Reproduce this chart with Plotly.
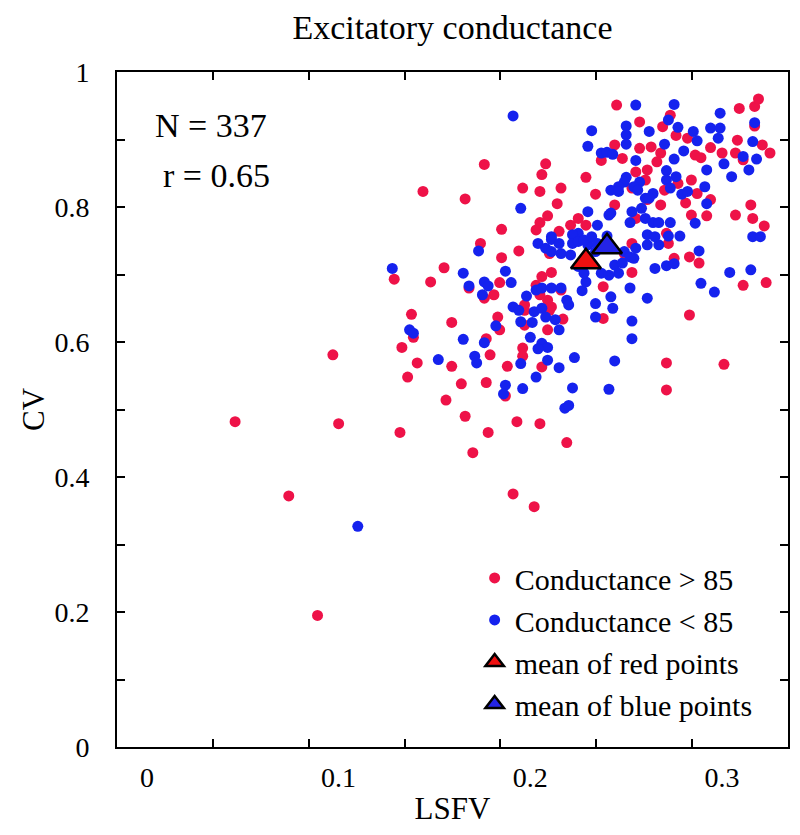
import plotly.graph_objects as go

# ---------------- data ----------------
red_x = [0.245,0.257,0.309,0.317,0.319,0.317,0.273,0.269,0.276,0.282,
         0.244,0.257,0.263,0.268,0.266,0.248,0.237,0.294,0.300,0.308,
         0.307,0.311,0.321,0.325,0.286,0.289,0.176,0.208,0.206,0.229,
         0.144,0.166,0.196,0.205,0.216,0.234,0.214,0.185,0.209,0.205,
         0.203,0.215,0.221,0.225,0.229,0.244,0.255,0.261,0.260,0.253,
         0.270,0.277,0.284,0.287,0.294,0.261,0.268,0.281,0.284,0.292,
         0.255,0.307,0.315,0.316,0.322,0.271,0.174,0.185,0.194,0.155,
         0.129,0.148,0.168,0.176,0.181,0.184,0.206,0.211,0.203,0.205,
         0.209,0.211,0.210,0.197,0.197,0.217,0.197,0.209,0.183,0.184,
         0.177,0.138,0.139,0.159,0.133,0.179,0.196,0.196,0.141,0.159,
         0.188,0.206,0.238,0.238,0.253,0.253,0.249,0.272,0.275,0.283,
         0.288,0.283,0.271,0.301,0.311,0.323,0.216,0.210,0.136,0.164,
         0.177,0.156,0.166,0.132,0.178,0.170,0.193,0.205,0.219,0.187,
         0.271,0.191,0.202,0.046,0.100,0.074,0.089,0.097]
red_y = [0.951,0.926,0.946,0.949,0.960,0.920,0.936,0.919,0.906,0.902,
         0.892,0.887,0.889,0.880,0.867,0.872,0.869,0.888,0.880,0.899,
         0.880,0.870,0.892,0.880,0.877,0.873,0.863,0.864,0.848,0.844,
         0.823,0.812,0.828,0.823,0.828,0.819,0.805,0.767,0.787,0.777,
         0.766,0.764,0.773,0.783,0.773,0.803,0.852,0.855,0.840,0.828,
         0.825,0.835,0.840,0.820,0.811,0.811,0.803,0.806,0.788,0.787,
         0.783,0.788,0.803,0.783,0.772,0.761,0.746,0.725,0.735,0.710,
         0.693,0.689,0.680,0.665,0.670,0.688,0.697,0.703,0.684,0.670,
         0.662,0.652,0.647,0.655,0.647,0.634,0.625,0.618,0.637,0.618,
         0.605,0.641,0.607,0.629,0.592,0.581,0.591,0.579,0.569,0.564,
         0.564,0.563,0.682,0.635,0.746,0.703,0.731,0.746,0.724,0.726,
         0.717,0.640,0.569,0.567,0.684,0.688,0.677,0.731,0.548,0.538,
         0.540,0.514,0.490,0.466,0.466,0.436,0.482,0.479,0.451,0.520,
         0.529,0.375,0.356,0.482,0.479,0.372,0.195,0.581]

blue_x = [0.191,0.255,0.275,0.272,0.277,0.250,0.250,0.250,0.262,0.270,
          0.285,0.287,0.299,0.294,0.299,0.298,0.317,0.316,0.232,0.230,
          0.237,0.240,0.243,0.255,0.275,0.280,0.301,0.311,0.318,0.314,
          0.305,0.292,0.291,0.292,0.271,0.271,0.276,0.273,0.279,0.282,
          0.250,0.249,0.246,0.242,0.246,0.257,0.254,0.256,0.264,0.260,
          0.262,0.253,0.252,0.264,0.267,0.273,0.286,0.241,0.242,0.230,
          0.195,0.235,0.225,0.222,0.211,0.240,0.261,0.272,0.278,0.316,
          0.320,0.128,0.173,0.165,0.168,0.176,0.178,0.175,0.187,0.190,
          0.198,0.203,0.206,0.216,0.219,0.220,0.191,0.194,0.202,0.206,
          0.208,0.195,0.201,0.213,0.215,0.182,0.137,0.139,0.165,0.176,
          0.200,0.206,0.209,0.204,0.152,0.171,0.172,0.195,0.209,0.215,
          0.223,0.244,0.227,0.229,0.234,0.234,0.242,0.243,0.252,0.253,
          0.253,0.261,0.265,0.271,0.275,0.288,0.289,0.296,0.304,0.315,
          0.244,0.246,0.248,0.249,0.254,0.255,0.261,0.267,0.204,0.208,
          0.211,0.216,0.221,0.222,0.225,0.230,0.234,0.237,0.225,0.228,
          0.211,0.215,0.228,0.232,0.235,0.252,0.237,0.241,0.211,0.260,
          0.265,0.258,0.187,0.186,0.196,0.203,0.222,0.218,0.220,0.241,
          0.110]
blue_y = [0.935,0.951,0.952,0.929,0.918,0.920,0.907,0.893,0.912,0.893,
          0.912,0.898,0.939,0.917,0.917,0.902,0.925,0.897,0.913,0.890,
          0.880,0.881,0.878,0.869,0.871,0.883,0.864,0.875,0.871,0.855,
          0.845,0.855,0.830,0.805,0.854,0.840,0.845,0.828,0.819,0.823,
          0.844,0.837,0.830,0.825,0.823,0.837,0.830,0.825,0.820,0.813,
          0.813,0.793,0.777,0.777,0.777,0.777,0.776,0.788,0.791,0.793,
          0.798,0.773,0.761,0.759,0.756,0.757,0.759,0.757,0.757,0.756,
          0.756,0.709,0.735,0.702,0.683,0.689,0.683,0.670,0.705,0.688,
          0.668,0.677,0.680,0.680,0.662,0.655,0.652,0.647,0.645,0.650,
          0.637,0.630,0.629,0.633,0.618,0.624,0.618,0.613,0.604,0.599,
          0.607,0.598,0.592,0.590,0.574,0.579,0.569,0.568,0.573,0.562,
          0.577,0.572,0.676,0.689,0.657,0.637,0.667,0.650,0.680,0.631,
          0.605,0.665,0.709,0.713,0.716,0.735,0.687,0.674,0.703,0.707,
          0.714,0.702,0.717,0.734,0.724,0.739,0.744,0.744,0.746,0.739,
          0.734,0.731,0.729,0.746,0.749,0.744,0.734,0.741,0.712,0.702,
          0.752,0.746,0.751,0.756,0.746,0.726,0.702,0.699,0.680,0.783,
          0.756,0.798,0.536,0.523,0.531,0.548,0.532,0.502,0.506,0.530,
          0.327]

mean_red = (0.229, 0.719)
mean_blue = (0.240, 0.741)

series_names = ["Conductance > 85", "Conductance < 85",
                "mean of red points", "mean of blue points"]
x_ticks = [0, 0.1, 0.2, 0.3]
x_ticktext = ["0", "0.1", "0.2", "0.3"]
x_minor = [0.05, 0.10, 0.15, 0.20, 0.25, 0.30]
y_ticks = [0, 0.1, 0.2, 0.3, 0.4, 0.5, 0.6, 0.7, 0.8, 0.9, 1.0]
y_ticktext = ["0", "", "0.2", "", "0.4", "", "0.6", "", "0.8", "", "1"]

# ---------------- figure ----------------
FONT = "Liberation Serif"
RED = "#EE1248"
BLUE = "#1522EE"

fig = go.Figure()
fig.add_trace(go.Scatter(x=red_x, y=red_y, mode="markers", name=series_names[0],
                         marker=dict(color=RED, size=11, line=dict(width=0))))
fig.add_trace(go.Scatter(x=blue_x, y=blue_y, mode="markers", name=series_names[1],
                         marker=dict(color=BLUE, size=11, line=dict(width=0))))
fig.add_trace(go.Scatter(x=[mean_red[0]], y=[mean_red[1]], mode="markers", name=series_names[2],
                         marker=dict(symbol="triangle-up", color="#F01010", size=26,
                                     line=dict(color="black", width=2.5))))
fig.add_trace(go.Scatter(x=[mean_blue[0]], y=[mean_blue[1]], mode="markers", name=series_names[3],
                         marker=dict(symbol="triangle-up", color="#2424E6", size=26,
                                     line=dict(color="black", width=2.5))))
# empty trace on the tick-mark axis so that axis is drawn
fig.add_trace(go.Scatter(x=[None], y=[None], xaxis="x2", showlegend=False, hoverinfo="skip"))

fig.update_layout(
    width=800, height=835,
    margin=dict(l=117, r=10, t=72, b=88),
    paper_bgcolor="white", plot_bgcolor="white",
    font=dict(family=FONT, color="black", size=28),
    title=dict(text="Excitatory conductance", x=0.5, xref="paper",
               y=1 - 27 / 835, yref="container", yanchor="middle", xanchor="center",
               font=dict(family=FONT, size=34, color="black")),
    xaxis=dict(range=[-0.0156, 0.3344], tickvals=x_ticks, ticktext=x_ticktext,
               ticks="", showgrid=False, zeroline=False,
               showline=True, linecolor="black", linewidth=2, mirror=True,
               tickfont=dict(family=FONT, size=28), ticklabelstandoff=4,
               title=dict(text="LSFV", font=dict(family=FONT, size=31), standoff=6)),
    xaxis2=dict(range=[0, 0.35], overlaying="x", anchor="y", side="bottom",
                tickvals=x_minor, showticklabels=False, ticks="inside", ticklen=8,
                tickwidth=2, tickcolor="black", showgrid=False, zeroline=False,
                showline=True, linecolor="black", linewidth=2, mirror="ticks"),
    yaxis=dict(range=[0, 1], tickvals=y_ticks, ticktext=y_ticktext,
               ticks="inside", ticklen=8, tickwidth=2, tickcolor="black",
               showgrid=False, zeroline=False,
               showline=True, linecolor="black", linewidth=2, mirror="ticks",
               tickfont=dict(family=FONT, size=28), ticklabelstandoff=20,
               title=dict(text="CV", font=dict(family=FONT, size=31), standoff=1)),
    legend=dict(x=0.533, y=0.289, xanchor="left", yanchor="top",
                bgcolor="rgba(0,0,0,0)", font=dict(family=FONT, size=30),
                tracegroupgap=0, itemsizing="trace"),
    showlegend=True,
)

fig.add_annotation(text="N = 337", xref="paper", yref="paper",
                   x=(153 - 117) / 673, y=0.92, xanchor="left", yanchor="middle",
                   showarrow=False, font=dict(family=FONT, size=34))
fig.add_annotation(text="r = 0.65", xref="paper", yref="paper",
                   x=(161 - 117) / 673, y=0.846, xanchor="left", yanchor="middle",
                   showarrow=False, font=dict(family=FONT, size=34))

fig.write_html("out.html", config={"displayModeBar": False},
               post_script="document.body.style.margin='0';")
